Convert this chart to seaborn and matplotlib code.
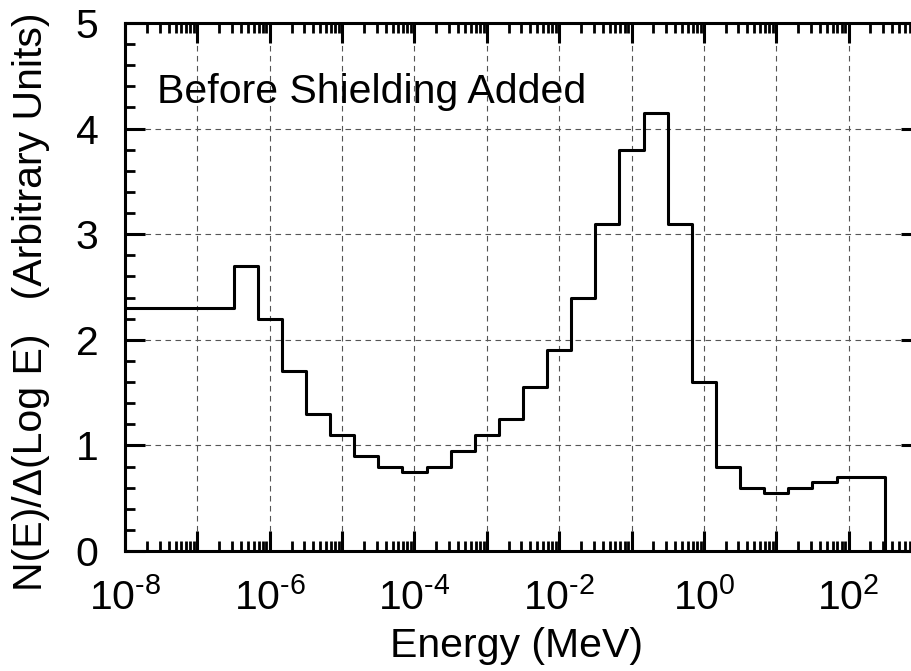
import numpy as np
import pandas as pd
import matplotlib
matplotlib.use("Agg")
import matplotlib.pyplot as plt
from matplotlib.ticker import FixedLocator, FuncFormatter, MultipleLocator
import seaborn as sns

# Energy bin boundaries, log10(E / MeV); the first bin runs in from the left edge
log_edges = [-8.0, -6.5, -6.1667, -5.8333, -5.5, -5.1667, -4.8333, -4.5,
             -4.1667, -3.8333, -3.5, -3.1667, -2.8333, -2.5, -2.1667,
             -1.8333, -1.5, -1.1667, -0.8333, -0.5, -0.1667, 0.1667, 0.5,
             0.8333, 1.1667, 1.5, 1.8333, 2.5]

# N(E)/Δ(log E) in each bin (arbitrary units)
spectrum = [2.3, 2.7, 2.2, 1.7, 1.3, 1.1, 0.9, 0.8, 0.75, 0.8, 0.95, 1.1,
            1.25, 1.55, 1.9, 2.4, 3.1, 3.8, 4.15, 3.1, 1.6, 0.8, 0.6, 0.55,
            0.6, 0.65, 0.7]

decades = [-8, -7, -6, -5, -4, -3, -2, -1, 0, 1, 2, 3]
labelled_decades = [-8, -6, -4, -2, 0, 2]
y_ticks = [0, 1, 2, 3, 4, 5]

title_text = "Before Shielding Added"
x_title = "Energy (MeV)"
y_title = "N(E)/\u0394(Log E)   (Arbitrary Units)"

sns.set_style("white")
plt.rcParams["font.family"] = ["Liberation Sans", "DejaVu Sans"]
plt.rcParams["mathtext.fontset"] = "custom"
plt.rcParams["mathtext.rm"] = "Liberation Sans"
plt.rcParams["mathtext.it"] = "Liberation Sans"
plt.rcParams["mathtext.bf"] = "Liberation Sans"
plt.rcParams["axes.unicode_minus"] = False
plt.rcParams["text.color"] = "black"
plt.rcParams["xtick.color"] = "black"
plt.rcParams["ytick.color"] = "black"
plt.rcParams["axes.labelcolor"] = "black"

FS = 29.5

# step outline: each edge carries the height of the bin to its right,
# the final edge drops back to zero
energy = [10.0 ** e for e in log_edges]
heights = spectrum + [0.0]
df = pd.DataFrame({"energy": energy, "flux": heights})

fig = plt.figure(figsize=(9.12, 6.71), dpi=100)
ax = fig.add_axes([0.13706, 0.17884, 0.87281, 0.78689])
ax.set_xscale("log")

sns.lineplot(data=df, x="energy", y="flux", drawstyle="steps-post",
             estimator=None, sort=False, color="black", linewidth=2.2,
             ax=ax, zorder=3)

ax.set_xlim(1e-8, 1e3)
ax.set_ylim(0, 5)

# decade ticks everywhere, labels on every second decade
ax.xaxis.set_major_locator(FixedLocator([10.0 ** d for d in decades]))
minor_x = [m * 10.0 ** d for d in decades for m in range(2, 10)]
ax.xaxis.set_minor_locator(FixedLocator(minor_x))


def decade_label(val, pos):
    p = int(round(np.log10(val)))
    if p in labelled_decades:
        exp = ("\\text{-}%d" % -p) if p < 0 else "%d" % p
        return r"$\mathregular{10^{%s}}$" % exp
    return ""


ax.xaxis.set_major_formatter(FuncFormatter(decade_label))
ax.xaxis.set_minor_formatter(FuncFormatter(lambda v, p: ""))

ax.yaxis.set_major_locator(FixedLocator(y_ticks))
ax.yaxis.set_minor_locator(MultipleLocator(0.2))
ax.set_yticklabels([str(t) for t in y_ticks])

ax.tick_params(which="both", direction="in", top=True, right=True,
               bottom=True, left=True, color="black")
ax.tick_params(which="major", length=14.4, width=2.2)
ax.tick_params(which="minor", length=7.2, width=2.0)
ax.tick_params(axis="x", which="major", labelsize=FS, pad=19,
               labelcolor="black")
ax.tick_params(axis="y", which="major", labelsize=FS, pad=19,
               labelcolor="black")

for side in ["left", "right", "top", "bottom"]:
    ax.spines[side].set_visible(True)
    ax.spines[side].set_linewidth(2.2)
    ax.spines[side].set_color("black")

ax.set_axisbelow(True)
ax.grid(True, which="major", color="#555555", linewidth=0.8,
        linestyle=(0, (5, 4)))

ax.set_xlabel("")
ax.set_ylabel("")

fig.text(157 / 912, 1 - 102.7 / 671, title_text, fontsize=FS,
         ha="left", va="baseline", color="black")
fig.text(517 / 912, 1 - 657 / 671, x_title, fontsize=FS,
         ha="center", va="baseline", color="black")
fig.text(31 / 912, 1 - 302 / 671, y_title, fontsize=FS, rotation=90,
         ha="center", va="center", color="black")

fig.savefig("out.png", dpi=100)
